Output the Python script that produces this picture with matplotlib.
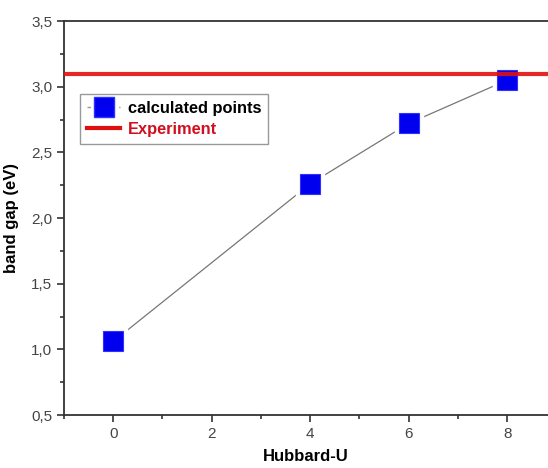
import matplotlib
matplotlib.use("Agg")
import matplotlib.pyplot as plt
from matplotlib.ticker import MultipleLocator, FuncFormatter

# data
hubbard_u = [0, 4, 6, 8]
band_gap = [1.06, 2.26, 2.72, 3.05]
experiment_gap = 3.10

plt.rcParams['font.family'] = ['Liberation Sans', 'DejaVu Sans']

fig = plt.figure(figsize=(5.48, 4.68), dpi=100)
ax = fig.add_axes([0.1168, 0.1132, 0.8832, 0.8419])

ax.plot(hubbard_u, band_gap, color='#777777', lw=0.9, zorder=3)
ax.plot(hubbard_u, band_gap, ls='none', marker='s', ms=20, mfc='white', mec='white', zorder=4)
ax.plot(hubbard_u, band_gap, ls='none', marker='s', ms=15, mfc='#0000ee',
        mec='#3030ff', mew=0.8, zorder=5)
ax.axhline(experiment_gap, color='#e01010', lw=3, alpha=0.9, zorder=6)

# legend handle with the dashed connector
handle, = ax.plot([], [], color='#999999', lw=1, ls=(0, (2.5, 3.2)), marker='s', ms=14,
                  mfc='#0000ee', mec='#3030ff')
exp_handle, = ax.plot([], [], color='#e01010', lw=3)
leg = ax.legend([handle, exp_handle], ['calculated points', 'Experiment'],
                loc='upper left', bbox_to_anchor=(0.033, 0.816), fancybox=False,
                edgecolor='#999999', framealpha=1, handlelength=2.0, handletextpad=0.45,
                borderpad=0.45, labelspacing=0.35, borderaxespad=0,
                prop={'size': 11.8, 'weight': 'bold'})
leg.get_frame().set_linewidth(1.0)
leg.get_texts()[1].set_color('#d01020')

ax.set_xlim(-1, 8.83)
ax.set_ylim(0.5, 3.5)
ax.xaxis.set_major_locator(MultipleLocator(2))
ax.xaxis.set_minor_locator(MultipleLocator(1))
ax.yaxis.set_major_locator(MultipleLocator(0.5))
ax.yaxis.set_minor_locator(MultipleLocator(0.25))
ax.yaxis.set_major_formatter(FuncFormatter(lambda v, p: ('%.1f' % v).replace('.', ',')))

for s in ['left', 'bottom', 'top']:
    ax.spines[s].set_color('#333333')
    ax.spines[s].set_linewidth(1.3)
ax.spines['right'].set_visible(False)
ax.tick_params(which='both', direction='out', color='#333333', width=1.2,
               labelsize=11, labelcolor='#444444', top=False, right=False)
ax.tick_params(which='major', length=5)
ax.tick_params(which='minor', length=3)

ax.set_xlabel('Hubbard-U', fontsize=12, fontweight='bold', labelpad=6)
ax.set_ylabel('band gap (eV)', fontsize=12, fontweight='bold', labelpad=9)

fig.savefig('out.png', dpi=100)
